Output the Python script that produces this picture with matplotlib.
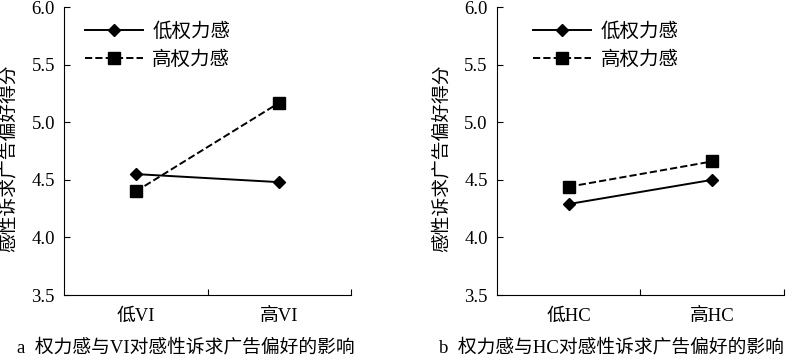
import matplotlib.pyplot as plt

plt.rcParams['font.family'] = ['Liberation Serif', 'Noto Sans CJK SC']

# 数据
series_names = ['低权力感', '高权力感']
cats_a = ['低VI', '高VI']
low_a = [4.55, 4.48]
high_a = [4.40, 5.17]
cats_b = ['低HC', '高HC']
low_b = [4.29, 4.50]
high_b = [4.44, 4.66]
captions = ['a  权力感与VI对感性诉求广告偏好的影响', 'b  权力感与HC对感性诉求广告偏好的影响']
yticks = [3.5, 4.0, 4.5, 5.0, 5.5, 6.0]

fig = plt.figure(figsize=(8, 3.59), dpi=100)
ax1 = fig.add_axes([0.08, 0.178, 0.359, 0.8025])
ax2 = fig.add_axes([0.621, 0.178, 0.359, 0.8025])

panels = [(ax1, cats_a, low_a, high_a, captions[0], 0.021, 0.047),
          (ax2, cats_b, low_b, high_b, captions[1], 0.549, 0.1)]

for ax, cats, low, high, cap, cx, lx in panels:
    x = list(range(len(cats)))
    ax.plot(x, low, color='black', linestyle='-', lw=1.4,
            marker='D', markersize=6.5, label=series_names[0])
    ax.plot(x, high, color='black', linestyle='--', lw=1.4,
            marker='s', markersize=8.5, label=series_names[1])
    ax.set_xlim(-0.5, 1.5)
    ax.set_ylim(3.5, 6.0)
    ax.set_yticks(yticks)
    ax.set_yticklabels([f'{v:.1f}' for v in yticks], fontsize=13.5)
    ax.set_xticks([0.5, 1.5])
    ax.set_xticklabels([])
    ax.set_xticks(x, minor=True)
    ax.set_xticklabels(cats, minor=True, fontsize=13.5)
    ax.tick_params(axis='x', which='minor', length=0, pad=9)
    ax.tick_params(axis='x', which='major', length=4, direction='in')
    ax.tick_params(axis='y', length=4, direction='in', pad=6.5)
    ax.spines['top'].set_visible(False)
    ax.spines['right'].set_visible(False)
    ax.set_ylabel('感性诉求广告偏好得分', fontsize=13.5)
    ax.yaxis.set_label_coords(-0.162, 0.476)
    ax.legend(loc='upper left', frameon=False, fontsize=14, handlelength=2.95,
              handletextpad=0.5, bbox_to_anchor=(lx, 0.974), borderaxespad=0,
              labelspacing=0.5)
    fig.text(cx, 0.033, cap, fontsize=13.5, ha='left', va='center')

fig.savefig('out.png', dpi=100)
